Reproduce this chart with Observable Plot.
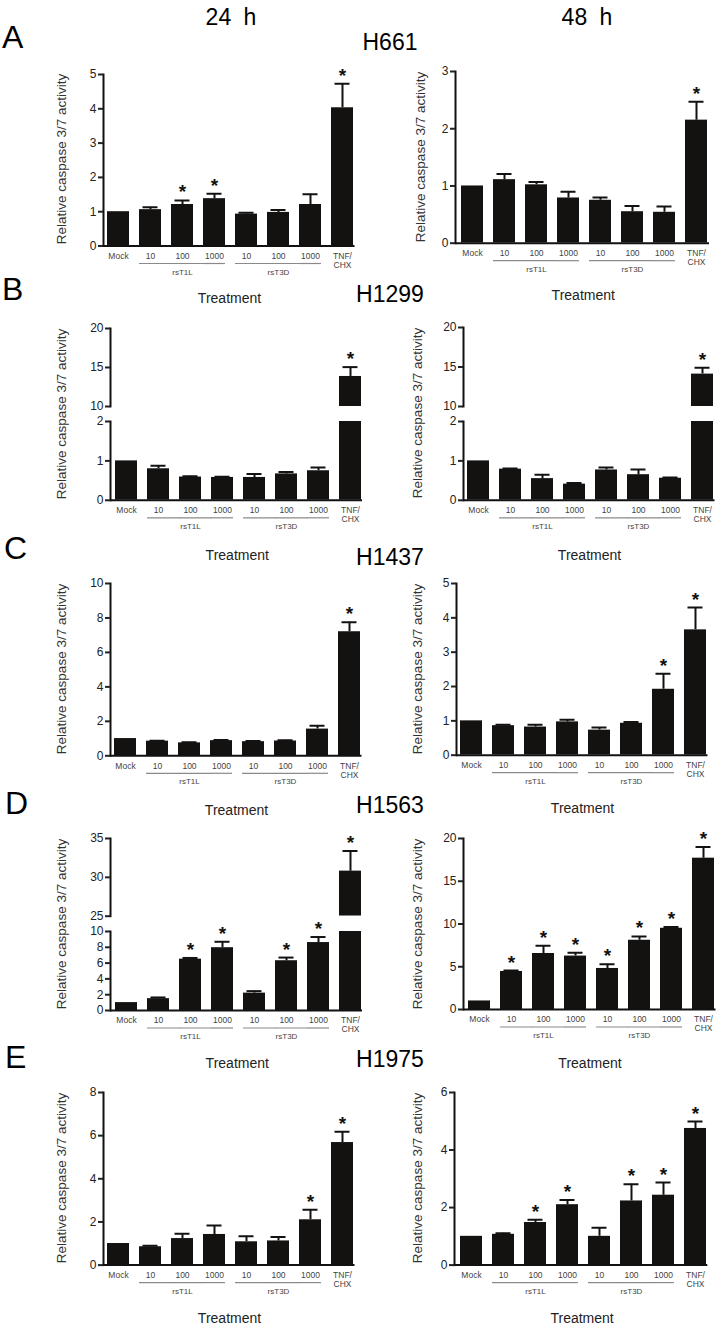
<!DOCTYPE html>
<html><head><meta charset="utf-8">
<script src="https://cdn.jsdelivr.net/npm/d3@7"></script>
<script src="https://cdn.jsdelivr.net/npm/@observablehq/plot@0.6"></script>
<style>
body{margin:0;background:#fff;}
#fig{position:relative;width:724px;height:1329px;overflow:hidden;font-family:"Liberation Sans",Arial,Helvetica,sans-serif;background:#fff;}
.t{position:absolute;white-space:nowrap;line-height:1;}
.plot{position:absolute;}
</style></head><body><div id="fig"></div>
<script>
// ---- data ----
const categories = ["Mock","rsT1L 10","rsT1L 100","rsT1L 1000","rsT3D 10","rsT3D 100","rsT3D 1000","TNF/CHX"];
const tickLabels = ["Mock","10","100","1000","10","100","1000","TNF/\nCHX"];
const groups = ["rsT1L","rsT3D"];
const timeLabels = ["24 h","48 h"];
const rowLetters = ["A","B","C","D","E"];
const cellLines = ["H661","H1299","H1437","H1563","H1975"];
const yTitle = "Relative caspase 3/7 activity";
const xTitle = "Treatment";

const h661_24_mean = [1.0, 1.06, 1.21, 1.38, 0.93, 0.98, 1.21, 4.03];
const h661_24_sem  = [0, 0.07, 0.12, 0.14, 0.04, 0.07, 0.30, 0.70];
const h661_24_sig  = [0, 0, 1, 1, 0, 0, 0, 1];
const h661_48_mean = [1.0, 1.11, 1.02, 0.79, 0.75, 0.55, 0.54, 2.15];
const h661_48_sem  = [0, 0.10, 0.05, 0.11, 0.05, 0.10, 0.10, 0.32];
const h661_48_sig  = [0, 0, 0, 0, 0, 0, 0, 1];

const h1299_24_mean = [1.0, 0.80, 0.59, 0.58, 0.58, 0.67, 0.75, 13.85];
const h1299_24_sem  = [0, 0.08, 0.02, 0.02, 0.09, 0.05, 0.08, 1.2];
const h1299_24_sig  = [0, 0, 0, 0, 0, 0, 0, 1];
const h1299_48_mean = [1.0, 0.79, 0.55, 0.41, 0.77, 0.65, 0.56, 14.1];
const h1299_48_sem  = [0, 0.02, 0.10, 0.03, 0.06, 0.13, 0.02, 0.8];
const h1299_48_sig  = [0, 0, 0, 0, 0, 0, 0, 1];

const h1437_24_mean = [1.0, 0.85, 0.75, 0.88, 0.82, 0.86, 1.55, 7.2];
const h1437_24_sem  = [0, 0.03, 0.03, 0.04, 0.04, 0.04, 0.20, 0.55];
const h1437_24_sig  = [0, 0, 0, 0, 0, 0, 0, 1];
const h1437_48_mean = [1.0, 0.86, 0.82, 0.97, 0.73, 0.93, 1.92, 3.65];
const h1437_48_sem  = [0, 0.03, 0.07, 0.06, 0.08, 0.04, 0.45, 0.65];
const h1437_48_sig  = [0, 0, 0, 0, 0, 0, 1, 1];

const h1563_24_mean = [1.0, 1.5, 6.5, 7.95, 2.2, 6.3, 8.6, 30.8];
const h1563_24_sem  = [0, 0.15, 0.15, 0.75, 0.25, 0.4, 0.7, 2.6];
const h1563_24_sig  = [0, 0, 1, 1, 0, 1, 1, 1];
const h1563_48_mean = [1.0, 4.45, 6.55, 6.25, 4.8, 8.1, 9.5, 17.7];
const h1563_48_sem  = [0, 0.12, 0.9, 0.4, 0.5, 0.45, 0.15, 1.3];
const h1563_48_sig  = [0, 1, 1, 1, 1, 1, 1, 1];

const h1975_24_mean = [1.0, 0.85, 1.23, 1.42, 1.08, 1.12, 2.1, 5.68];
const h1975_24_sem  = [0, 0.05, 0.22, 0.42, 0.26, 0.18, 0.47, 0.5];
const h1975_24_sig  = [0, 0, 0, 0, 0, 0, 1, 1];
const h1975_48_mean = [1.0, 1.07, 1.48, 2.1, 1.0, 2.23, 2.43, 4.75];
const h1975_48_sem  = [0, 0.04, 0.1, 0.16, 0.3, 0.58, 0.44, 0.24];
const h1975_48_sig  = [0, 0, 1, 1, 0, 1, 1, 1];

// ---- layout (page pixels) ----
const panels = [
  {row:0, col:0, mean:h661_24_mean, sem:h661_24_sem, sig:h661_24_sig, mock:117, tnf:342, treat:303,
   segs:[{domain:[0,5], ticks:[0,1,2,3,4,5], yb:245, yt:73.5, base:true}]},
  {row:0, col:1, mean:h661_48_mean, sem:h661_48_sem, sig:h661_48_sig, mock:469.5, tnf:697, treat:300,
   segs:[{domain:[0,3], ticks:[0,1,2,3], yb:242.7, yt:71, base:true}]},
  {row:1, col:0, mean:h1299_24_mean, sem:h1299_24_sem, sig:h1299_24_sig, mock:124.5, tnf:350, treat:560,
   segs:[{domain:[10,20], ticks:[10,15,20], yb:406, yt:328},
         {domain:[0,2], ticks:[0,1,2], yb:499.3, yt:420.5, base:true}]},
  {row:1, col:1, mean:h1299_48_mean, sem:h1299_48_sem, sig:h1299_48_sig, mock:477, tnf:702, treat:560,
   segs:[{domain:[10,20], ticks:[10,15,20], yb:406, yt:327},
         {domain:[0,2], ticks:[0,1,2], yb:499.3, yt:420.5, base:true}]},
  {row:2, col:0, mean:h1437_24_mean, sem:h1437_24_sem, sig:h1437_24_sig, mock:124, tnf:349, treat:815,
   segs:[{domain:[0,10], ticks:[0,2,4,6,8,10], yb:755, yt:582.7, base:true}]},
  {row:2, col:1, mean:h1437_48_mean, sem:h1437_48_sem, sig:h1437_48_sig, mock:470, tnf:695, treat:813,
   segs:[{domain:[0,5], ticks:[0,1,2,3,4,5], yb:755, yt:583.3, base:true}]},
  {row:3, col:0, mean:h1563_24_mean, sem:h1563_24_sem, sig:h1563_24_sig, mock:124.5, tnf:350, treat:1068,
   segs:[{domain:[25,35], ticks:[25,30,35], yb:916, yt:838.3},
         {domain:[0,10], ticks:[0,2,4,6,8,10], yb:1010, yt:931, base:true}]},
  {row:3, col:1, mean:h1563_48_mean, sem:h1563_48_sem, sig:h1563_48_sig, mock:477, tnf:703, treat:1068,
   segs:[{domain:[0,20], ticks:[0,5,10,15,20], yb:1009.3, yt:838.3, base:true}]},
  {row:4, col:0, mean:h1975_24_mean, sem:h1975_24_sem, sig:h1975_24_sig, mock:117, tnf:342, treat:1323,
   segs:[{domain:[0,8], ticks:[0,2,4,6,8], yb:1264.3, yt:1091.7, base:true}]},
  {row:4, col:1, mean:h1975_48_mean, sem:h1975_48_sem, sig:h1975_48_sig, mock:468.7, tnf:695.5, treat:1323,
   segs:[{domain:[0,6], ticks:[0,2,4,6], yb:1264.3, yt:1091.7, base:true}]}
];
const letterBase = [48, 300, 559, 814, 1068];
const letterLeft = [2, 2, 4, 5, 5];
const cellBase = [50, 302, 565, 813, 1067];
const timeX = [231, 587];
const titleX = [62, 417.5];

const fig = document.getElementById("fig");
const barColor = "#141210";
const FONT = "'Liberation Sans', Arial, Helvetica, sans-serif";

function addText(txt, x, baseline, fs, opts = {}) {
  const d = document.createElement("div");
  d.className = "t";
  d.textContent = txt;
  d.style.fontSize = fs + "px";
  d.style.left = x + "px";
  d.style.top = (baseline - 0.8465 * fs) + "px";
  d.style.color = opts.color || "#000";
  if (opts.wordSpacing) d.style.wordSpacing = opts.wordSpacing + "px";
  if (opts.center) d.style.transform = "translateX(-50%)";
  fig.appendChild(d);
  return d;
}
function addRotated(txt, cx, cy, fs, color) {
  const d = document.createElement("div");
  d.className = "t";
  d.textContent = txt;
  d.style.fontSize = fs + "px";
  d.style.left = cx + "px";
  d.style.top = cy + "px";
  d.style.color = color;
  d.style.transform = "translate(-50%,-50%) rotate(-90deg)";
  fig.appendChild(d);
}

const PI = 0.31, PO = 0.07, AL = 0.77;

function segmentPlot(p, seg) {
  const ML = 36, MR = 8, MT = 20, MB = seg.base ? 44 : 8;
  const x0 = p.mock - 14.5, x1 = p.tnf + 12;
  const width = ML + (x1 - x0) + MR;
  const height = MT + (seg.yb - seg.yt) + MB;
  const step = (x1 - x0) / (categories.length - PI + 2 * PO);
  const gap = step * PI;
  const rows = categories.map((c, i) => ({c, label: tickLabels[i], m: p.mean[i], e: p.sem[i], s: p.sig[i]}));
  const [lo, hi] = seg.domain;
  const visBars = rows.filter(d => d.m > lo);
  const err = rows.filter(d => d.e > 0 && d.m + d.e > lo && d.m < hi);
  const stars = rows.filter(d => d.s && d.m + d.e >= lo && d.m + d.e <= hi);
  const marks = [
    Plot.barY(visBars, {x: "c", y1: lo, y2: "m", fill: barColor, clip: true}),
    Plot.ruleX(err, {x: "c", y1: "m", y2: d => d.m + d.e, stroke: barColor, strokeWidth: 2, clip: true}),
    Plot.tickY(err, {x: "c", y: d => d.m + d.e, stroke: barColor, strokeWidth: 2, insetLeft: 3.5, insetRight: 3.5, clip: true}),
    Plot.text(stars, {x: "c", y: d => d.m + d.e, text: () => "*", dy: -8, fontSize: 19, fontWeight: "bold", fill: barColor}),
    Plot.frame({anchor: "left", stroke: "#111", strokeWidth: 2}),
    Plot.axisY({ticks: seg.ticks, tickFormat: d => String(d), tickSize: 5, tickPadding: 2, strokeWidth: 2, fontSize: 12, label: null})
  ];
  if (seg.base) {
    const grpFirst = rows.filter(d => groups.some(g => d.c === g + " 10" || d.c === g + " 100"));
    const grpLast = rows.filter(d => groups.some(g => d.c === g + " 1000"));
    const grpMid = groups.map(g => ({c: g + " 100", g}));
    marks.push(
      Plot.ruleY([lo], {stroke: "#111", strokeWidth: 2}),
      Plot.text(rows, {x: "c", y: lo, text: "label", dy: 6.5, lineAnchor: "top", lineHeight: 1.05, fontSize: 8.5, fill: "#444"}),
      Plot.tickY(grpFirst, {x: "c", y: lo, dy: 17.5, insetLeft: 0, insetRight: -(gap + 0.5), stroke: "#8a8a8a", strokeWidth: 1.2}),
      Plot.tickY(grpLast, {x: "c", y: lo, dy: 17.5, stroke: "#8a8a8a", strokeWidth: 1.2}),
      Plot.text(grpMid, {x: "c", y: lo, text: "g", dy: 26, fontSize: 8, fill: "#444"})
    );
  }
  const svg = Plot.plot({
    width, height, marginLeft: ML, marginRight: MR, marginTop: MT, marginBottom: MB,
    x: {domain: categories, axis: null, paddingInner: PI, paddingOuter: PO, align: AL},
    y: {domain: seg.domain},
    style: {background: "transparent", overflow: "visible", fontFamily: FONT, color: "#222"},
    marks
  });
  svg.classList.add("plot");
  svg.style.position = "absolute";
  svg.style.left = (x0 - ML) + "px";
  svg.style.top = (seg.yt - MT) + "px";
  fig.appendChild(svg);
}

for (const p of panels) {
  for (const seg of p.segs) segmentPlot(p, seg);
  const top = p.segs[0].yt, bottom = p.segs[p.segs.length - 1].yb;
  const tx = (p.row === 0 && p.col === 1) ? 421 : titleX[p.col];
  addRotated(yTitle, tx, (top + bottom) / 2, 13.5, "#333");
  addText(xTitle, (p.mock + p.tnf) / 2, p.treat, 14, {center: true, color: "#222"});
}
rowLetters.forEach((L, i) => addText(L, letterLeft[i], letterBase[i], 32));
cellLines.forEach((c, i) => addText(c, 390, cellBase[i], 23, {center: true}));
timeLabels.forEach((t, i) => addText(t, timeX[i], 25, 23, {center: true, wordSpacing: 6}));
</script>
</body></html>
